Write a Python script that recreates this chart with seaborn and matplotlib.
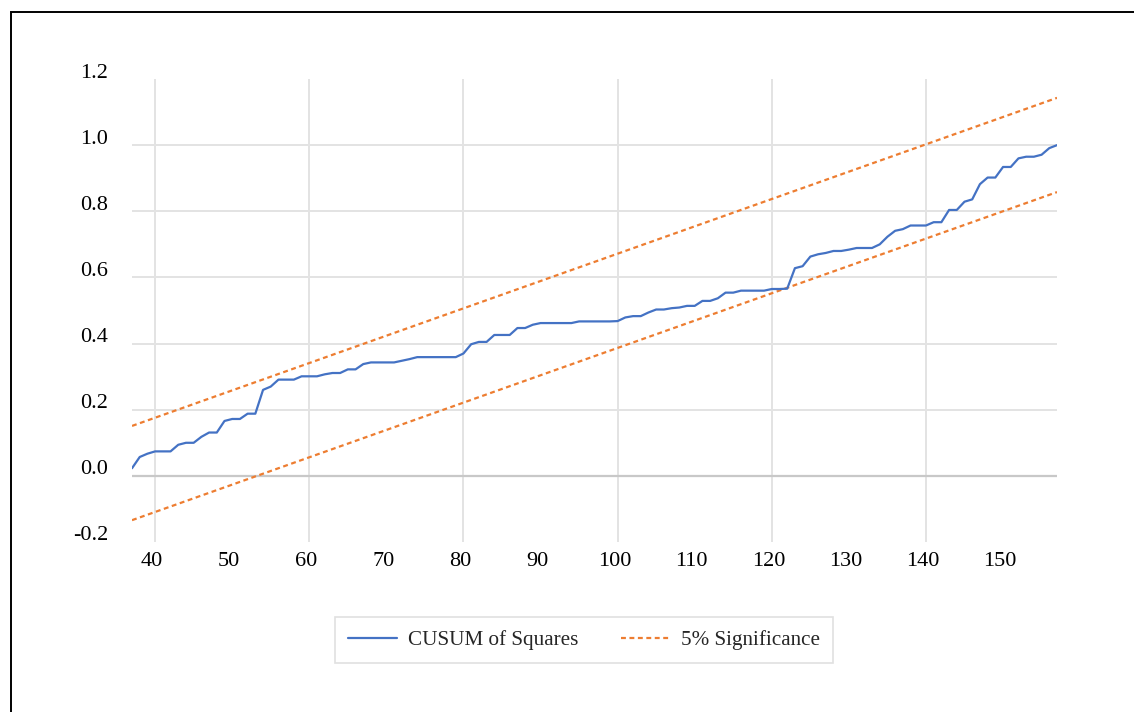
import numpy as np
import pandas as pd
import matplotlib
matplotlib.use("Agg")
import matplotlib.pyplot as plt
import matplotlib.transforms as mtransforms
from matplotlib.patches import Rectangle
import seaborn as sns

# ======== Data ========
periods = list(range(37, 158))
cusum_sq = [
    0.023, 0.057, 0.067, 0.074, 0.074, 0.074, 0.094, 0.100, 0.100, 0.118,
    0.131, 0.131, 0.166, 0.172, 0.172, 0.188, 0.188, 0.260, 0.270, 0.291,
    0.291, 0.291, 0.301, 0.301, 0.301, 0.307, 0.311, 0.311, 0.322, 0.322,
    0.338, 0.343, 0.343, 0.343, 0.343, 0.348, 0.353, 0.359, 0.359, 0.359,
    0.359, 0.359, 0.359, 0.370, 0.398, 0.405, 0.405, 0.426, 0.426, 0.426,
    0.447, 0.447, 0.457, 0.462, 0.462, 0.462, 0.462, 0.462, 0.467, 0.467,
    0.467, 0.467, 0.467, 0.468, 0.479, 0.483, 0.483, 0.494, 0.503, 0.503,
    0.507, 0.509, 0.514, 0.514, 0.529, 0.529, 0.537, 0.554, 0.554, 0.560,
    0.560, 0.560, 0.560, 0.565, 0.565, 0.566, 0.628, 0.634, 0.663, 0.670,
    0.674, 0.680, 0.680, 0.684, 0.689, 0.689, 0.689, 0.700, 0.723, 0.741,
    0.746, 0.757, 0.757, 0.757, 0.767, 0.767, 0.804, 0.804, 0.829, 0.836,
    0.882, 0.902, 0.902, 0.934, 0.934, 0.960, 0.965, 0.965, 0.971, 0.991,
    1.000,
]
bound_x = [37, 157]
upper_5pct = [0.151, 1.143]
lower_5pct = [-0.134, 0.858]

x_ticks = list(range(40, 151, 10))
x_grid = list(range(40, 141, 20))
y_ticks = [-0.2, 0.0, 0.2, 0.4, 0.6, 0.8, 1.0, 1.2]
y_grid = [0.2, 0.4, 0.6, 0.8, 1.0]

df = pd.DataFrame({"t": periods, "cusum": cusum_sq})
bounds = pd.DataFrame({"t": bound_x, "upper": upper_5pct, "lower": lower_5pct})

# ======== Style ========
sns.set_style("white")
plt.rcParams["font.family"] = ["Liberation Serif", "DejaVu Serif"]

fig = plt.figure(figsize=(11.34, 7.12), dpi=100)
ax = fig.add_axes([132 / 1134, 1 - 542 / 712, 925 / 1134, 463 / 712])

blue = "#4472C4"
orange = "#ED7D31"
grid_c = "#e3e3e3"

# gridlines (Excel style: vertical every 20, horizontal 0.2..1.0, darker zero axis)
for gx in x_grid:
    ax.axvline(gx, color=grid_c, lw=1.4, zorder=1)
for gy in y_grid:
    ax.axhline(gy, color=grid_c, lw=1.4, zorder=1)
ax.axhline(0, color="#c8c8c8", lw=1.6, zorder=2)

sns.lineplot(data=df, x="t", y="cusum", ax=ax, color=blue, lw=1.6,
             label="CUSUM of Squares", zorder=4)
sns.lineplot(data=bounds, x="t", y="upper", ax=ax, color=orange, lw=1.6,
             linestyle=(0, (2.2, 1.6)), label="5% Significance", zorder=3)
sns.lineplot(data=bounds, x="t", y="lower", ax=ax, color=orange, lw=1.6,
             linestyle=(0, (2.2, 1.6)), label="_nolegend_", zorder=3)

ax.set_xlim(37, 157)
ax.set_ylim(-0.2, 1.2)
ax.set_xlabel("")
ax.set_ylabel("")
ax.grid(False)

ax.set_xticks(x_ticks)
ax.set_yticks(y_ticks)
ax.set_yticklabels([f"{v:.1f}" for v in y_ticks])
ax.tick_params(which="both", length=0, labelsize=16, colors="black")
ax.tick_params(axis="y", pad=17)
ax.tick_params(axis="x", pad=7)
for s in ax.spines.values():
    s.set_visible(False)

# Excel puts the value labels a little above their gridlines
up = mtransforms.ScaledTranslation(0, 0.085, fig.dpi_scale_trans)
for lab in ax.get_yticklabels():
    lab.set_transform(lab.get_transform() + up)
left = mtransforms.ScaledTranslation(-0.03, 0, fig.dpi_scale_trans)
for lab in ax.get_xticklabels():
    lab.set_transform(lab.get_transform() + left)

leg = ax.legend(loc="center", bbox_to_anchor=(584 / 1134, 1 - 640 / 712),
                bbox_transform=fig.transFigure, ncol=2, fontsize=15.2,
                frameon=True, fancybox=False, handlelength=2.3,
                handletextpad=0.52, columnspacing=2.05, borderpad=0.62)
leg.get_frame().set_edgecolor("#d9d9d9")
leg.get_frame().set_linewidth(1.2)

# chart border
fig.patches.append(Rectangle((11 / 1134, -0.05), 1.2, 1 - 12 / 712 + 0.05,
                             transform=fig.transFigure, fill=False,
                             edgecolor="black", lw=1.4))

fig.savefig("out.png", dpi=100)
